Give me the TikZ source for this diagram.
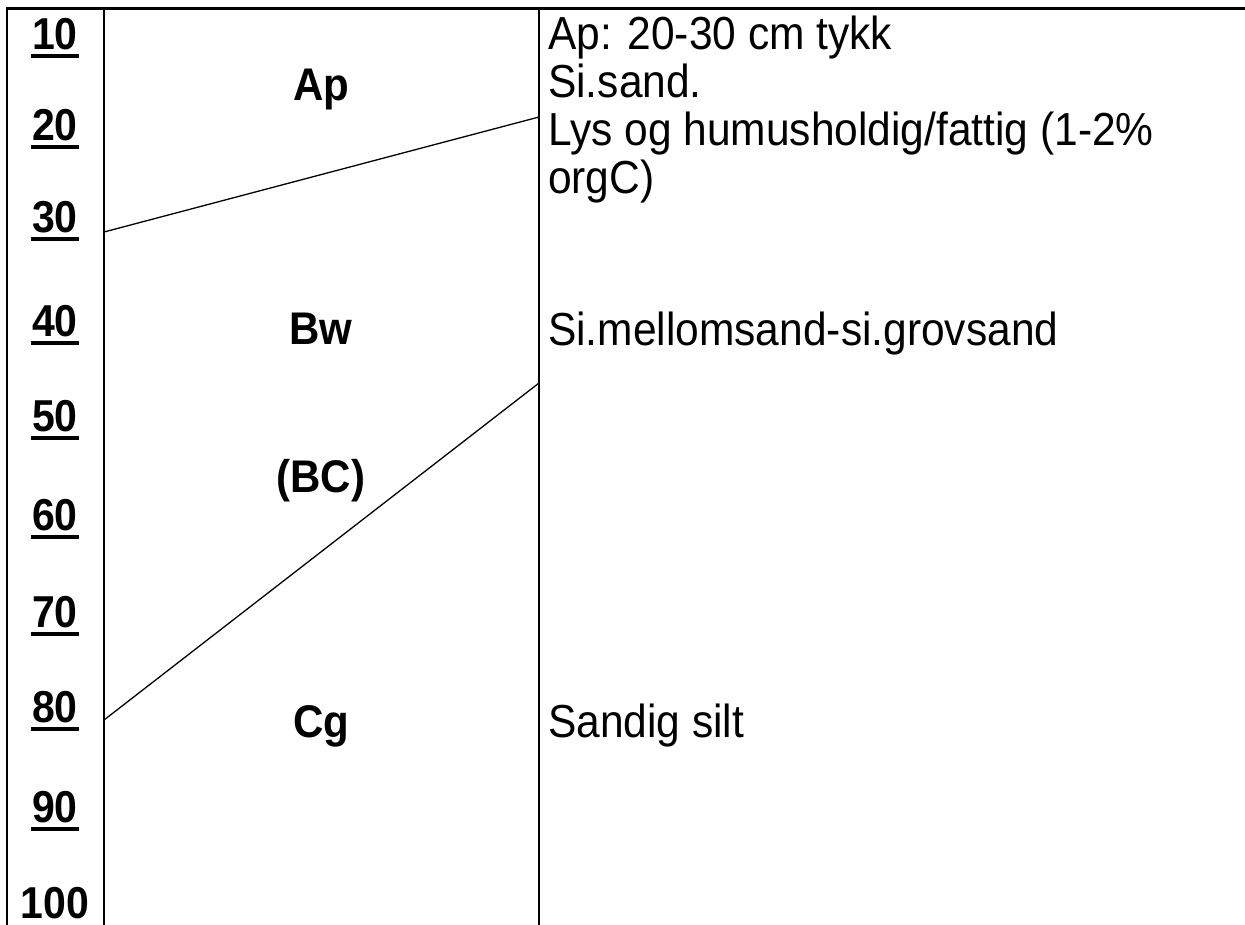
\documentclass[tikz,border=0pt]{standalone}
\usepackage{fontspec}
\usepackage{graphicx}
\setmainfont{Liberation Sans}
\usetikzlibrary{calc}
\newcommand\vstretch[1]{\scalebox{1}[1.09]{#1}}
\tikzset{
  depthlabel/.style={font=\fontsize{41}{41}\selectfont\bfseries, inner sep=0pt, anchor=base},
  horizonlabel/.style={font=\fontsize{42}{42}\selectfont\bfseries, inner sep=0pt, anchor=base},
  desc/.style={font=\fontsize{42.5}{48}\selectfont, inner sep=0pt, anchor=base west},
  frameline/.style={line width=2.5pt, line cap=rect},
  topline/.style={line width=3pt},
  boundary/.style={line width=1.3pt},
  uline/.style={line width=4pt}
}
\begin{document}
\begin{tikzpicture}[x=1pt,y=-1pt]
\useasboundingbox (0,0) rectangle (1245,924);
% frame
\coordinate (tl) at (7,8);
\coordinate (tr) at (1245,8);
\coordinate (bl) at (7,924);
\coordinate (c1t) at (104,8);
\coordinate (c1b) at (104,924);
\coordinate (c2t) at (539,8);
\coordinate (c2b) at (539,924);
\draw[topline] (tl) -- (tr);
\draw[frameline] (tl) -- (bl);
\draw[frameline] (c1t) -- (c1b);
\draw[frameline] (c2t) -- (c2b);
% horizon boundaries
\coordinate (b1L) at (104,232);
\coordinate (b1R) at (539,117);
\coordinate (b2L) at (104,720);
\coordinate (b2R) at (539,383);
\draw[boundary] (b1L) -- (b1R);
\draw[boundary] (b2L) -- (b2R);
% depth labels
\foreach \v/\y in {10/49,20/140,30/232,40/336,50/431,60/530,70/627,80/722,90/822}{
  \node[depthlabel] (d\v) at (55,\y) {\vstretch{\v}};
  \draw[uline] ($(d\v.base west)+(-1,7)$) -- ($(d\v.base east)+(1,7)$);
}
\node[depthlabel] (d100) at (55,918) {\vstretch{100}};
% horizon names
\node[horizonlabel] (hAp) at (321,100) {\vstretch{Ap}};
\node[horizonlabel] (hBw) at (321,344) {\vstretch{Bw}};
\node[horizonlabel] (hBC) at (321,492) {\vstretch{(BC)}};
\node[horizonlabel] (hCg) at (321,737) {\vstretch{Cg}};
% descriptions
\node[desc] (t1) at (548,49) {\vstretch{Ap: 20-30 cm tykk}};
\node[desc] (t2) at (548,97) {\vstretch{Si.sand.}};
\node[desc] (t3) at (548,145) {\vstretch{Lys og humusholdig/fattig (1-2\%}};
\node[desc] (t4) at (548,193) {\vstretch{orgC)}};
\node[desc] (t5) at (548,345) {\vstretch{Si.mellomsand-si.grovsand}};
\node[desc] (t6) at (548,737) {\vstretch{Sandig silt}};
\end{tikzpicture}
\end{document}
